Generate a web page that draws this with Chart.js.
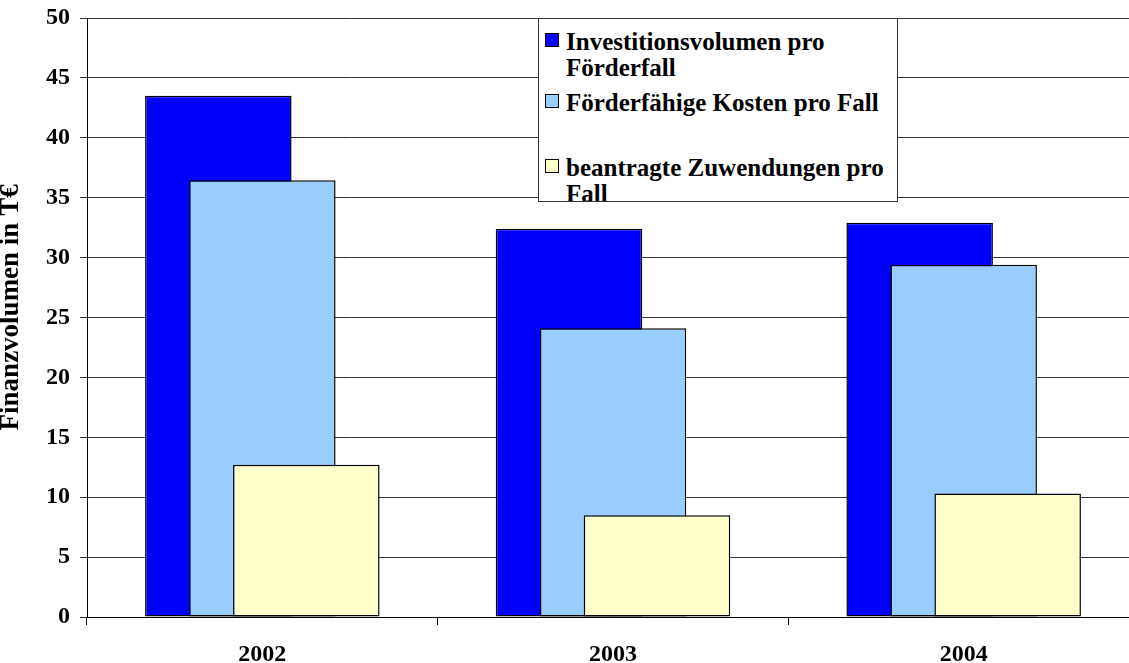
<!DOCTYPE html>
<html>
<head>
<meta charset="utf-8">
<script src="https://cdn.jsdelivr.net/npm/chart.js@4"></script>
<style>
  html, body { margin: 0; padding: 0; background: #fff; overflow: hidden; }
  #wrap { position: relative; width: 1150px; height: 663px; }
  #legend {
    position: absolute; left: 538px; top: 18px; width: 358px; height: 182px;
    border: 1px solid #333; background: #fff; overflow: hidden;
    font-family: "Liberation Serif", "Times New Roman", serif; font-weight: bold;
    font-size: 25px; line-height: 25.5px; color: #000;
  }
  .item { position: absolute; left: 27px; width: 330px; }
  .box { position: absolute; left: -21px; top: 4px; width: 12px; height: 12px; border: 1px solid #000; }
</style>
</head>
<body>
<div id="wrap">
  <canvas id="chart" width="1150" height="663"></canvas>
  <div id="legend"></div>
</div>
<script>
// Finanzvolumen pro Fall, 2002-2004 (T€)

const years = ['2002', '2003', '2004'];
const seriesNames = ['Investitionsvolumen pro Förderfall', 'Förderfähige Kosten pro Fall', 'beantragte Zuwendungen pro Fall'];
const investition = [43.5, 32.4, 32.9];
const foerderfaehig = [36.45, 24.1, 29.4];
const zuwendungen = [12.7, 8.5, 10.3];
const yTicks = [0, 5, 10, 15, 20, 25, 30, 35, 40, 45, 50];

const colors = ['#0000FF', '#99CCFF', '#FFFFCC'];
const FONT = '"Liberation Serif", "Times New Roman", serif';

// legend (Excel style box inside the plot)
const legendTops = [10, 71, 136];
const legend = document.getElementById('legend');
seriesNames.forEach((name, i) => {
    const div = document.createElement('div');
    div.className = 'item';
    div.style.top = legendTops[i] + 'px';
    div.innerHTML = '<span class="box" style="background:' + colors[i] + '"></span>' + name;
    legend.appendChild(div);
});

// draw first dataset first, so the right-hand bars lie on top
const drawOrder = {
    id: 'drawOrder',
    beforeDatasetsDraw(chart) {
        chart.getSortedVisibleDatasetMetas().forEach(m => m.controller.draw());
        return false;
    }
};

const ctx = document.getElementById('chart').getContext('2d');
new Chart(ctx, {
    type: 'bar',
    data: {
        labels: years,
        datasets: [investition, foerderfaehig, zuwendungen].map((d, i) => ({
            label: seriesNames[i],
            data: d,
            backgroundColor: colors[i],
            borderColor: '#000',
            borderWidth: 1.5,
            borderSkipped: false,
            categoryPercentage: 0.3764,
            barPercentage: 3.33
        }))
    },
    options: {
        responsive: false,
        animation: false,
        layout: { padding: { top: 18, right: 11, left: 0, bottom: 0 } },
        plugins: { legend: { display: false }, tooltip: { enabled: false } },
        scales: {
            x: {
                grid: { offset: true, drawOnChartArea: false, color: '#000', tickLength: 8 },
                border: { color: '#000', width: 1 },
                ticks: { color: '#000', padding: 15, font: { family: FONT, size: 24, weight: 'bold' } },
                afterFit: s => { s.height = 46; }
            },
            y: {
                min: 0,
                max: 50,
                afterBuildTicks: s => { s.ticks = yTicks.map(v => ({ value: v })); },
                grid: { color: '#333', tickLength: 7 },
                border: { color: '#000', width: 1 },
                ticks: { color: '#000', padding: 10, font: { family: FONT, size: 24, weight: 'bold' } },
                title: {
                    display: true,
                    text: '   Finanzvolumen in T€',
                    color: '#000',
                    padding: 0,
                    font: { family: FONT, size: 27, weight: 'bold', lineHeight: 0.85 }
                },
                afterFit: s => { s.width = 87; s.paddingTop = 0; s.paddingBottom = 0; }
            }
        }
    },
    plugins: [drawOrder]
});
</script>
</body>
</html>
